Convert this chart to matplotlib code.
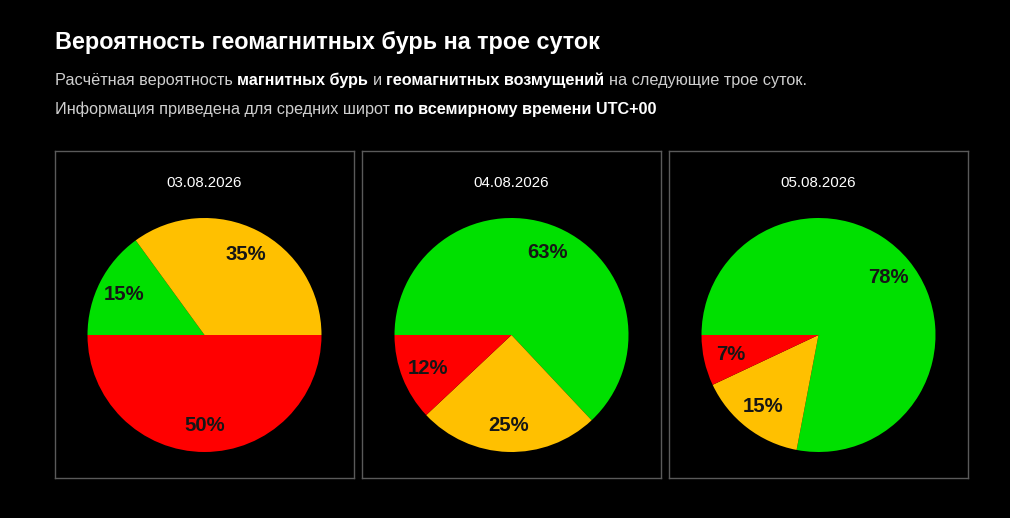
import matplotlib
matplotlib.use('Agg')
import matplotlib.pyplot as plt

plt.rcParams['font.family'] = ['Liberation Sans', 'DejaVu Sans']

dates = ['03.08.2026', '04.08.2026', '05.08.2026']
quiet = [15, 63, 78]      # green
disturb = [35, 25, 15]    # yellow
storm = [50, 12, 7]       # red
colors = ['#00e000', '#ffc000', '#ff0000']

title = 'Вероятность геомагнитных бурь на трое суток'
line1 = [('Расчётная вероятность', False), ('магнитных бурь', True), ('и', False),
         ('геомагнитных возмущений', True), ('на следующие трое суток.', False)]
line2 = [('Информация приведена для средних широт', False), ('по всемирному времени UTC+00', True)]

W, H = 1010, 518
fig = plt.figure(figsize=(W / 100, H / 100), dpi=100, facecolor='black')
renderer = fig.canvas.get_renderer()

fig.text(55 / W, 1 - 49 / H, title, color='white', fontsize=16.8, fontweight='bold', va='baseline')

sub_size = 11.7


def text_width(s, weight):
    t = fig.text(0, 0, s, fontsize=sub_size, fontweight=weight)
    w = t.get_window_extent(renderer).width
    t.remove()
    return w


space = text_width('x x', 'normal') - text_width('xx', 'normal')


def draw_runs(x, y, runs):
    for s, bold in runs:
        t = fig.text(x / W, 1 - y / H, s, fontsize=sub_size, va='baseline',
                     fontweight='bold' if bold else 'normal',
                     color='white' if bold else '#cfcfcf')
        x = t.get_window_extent(renderer).x1 + space


draw_runs(55, 85, line1)
draw_runs(55, 114, line2)

panel_left = [55, 362, 669]
panel_w = 299
panel_top, panel_bot = 151, 478
r = 117
cy = 335

for i in range(3):
    pax = fig.add_axes([panel_left[i] / W, 1 - panel_bot / H, panel_w / W, (panel_bot - panel_top) / H])
    pax.set_facecolor('black')
    pax.set_xticks([])
    pax.set_yticks([])
    for sp in pax.spines.values():
        sp.set_color('#5a5a5a')
        sp.set_linewidth(1)
    cx = panel_left[i] + panel_w / 2
    fig.text(cx / W, 1 - 187 / H, dates[i], color='white', fontsize=10.8, ha='center', va='baseline')

    ax = fig.add_axes([(cx - r) / W, 1 - (cy + r) / H, 2 * r / W, 2 * r / H])
    ax.set_facecolor('none')
    vals = [quiet[i], disturb[i], storm[i]]
    wedges, texts, autotexts = ax.pie(vals, colors=colors, startangle=180, counterclock=False,
                                      autopct='%d%%', pctdistance=0.77,
                                      textprops=dict(color='#161616', fontsize=14.6, fontweight='bold'))
    ax.set_xlim(-1, 1)
    ax.set_ylim(-1, 1)
    ax.axis('off')

fig.savefig('out.png', dpi=100, facecolor='black')
